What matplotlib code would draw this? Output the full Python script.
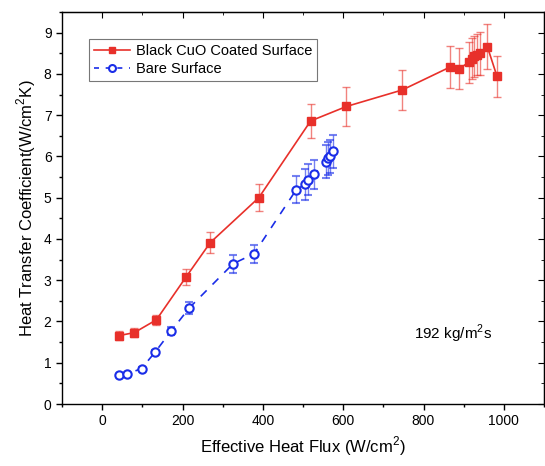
import matplotlib
matplotlib.use("Agg")
import matplotlib.pyplot as plt
from matplotlib.ticker import MultipleLocator
from matplotlib.lines import Line2D

plt.rcParams['font.family'] = ['Liberation Sans', 'DejaVu Sans']
plt.rcParams['mathtext.fontset'] = 'custom'
plt.rcParams['mathtext.rm'] = 'Liberation Sans'

cuo_x = [43, 80, 135, 209, 269, 390, 519, 608, 747, 867, 889, 913, 920, 926, 932, 940, 959, 983]
cuo_y = [1.66, 1.73, 2.04, 3.08, 3.91, 5.0, 6.86, 7.21, 7.61, 8.17, 8.13, 8.28, 8.37, 8.43, 8.47, 8.50, 8.66, 7.94]
cuo_err = [0.1, 0.1, 0.12, 0.2, 0.25, 0.32, 0.42, 0.47, 0.48, 0.5, 0.5, 0.5, 0.5, 0.5, 0.5, 0.52, 0.55, 0.5]

bare_x = [43, 63, 98, 132, 172, 217, 326, 378, 483, 504, 512, 527, 558, 563, 568, 575]
bare_y = [0.70, 0.73, 0.86, 1.26, 1.77, 2.33, 3.40, 3.64, 5.19, 5.32, 5.44, 5.57, 5.87, 5.96, 6.0, 6.12]
bare_err = [0.03, 0.03, 0.04, 0.06, 0.1, 0.15, 0.22, 0.22, 0.33, 0.38, 0.38, 0.35, 0.4, 0.4, 0.4, 0.4]

fig = plt.figure(figsize=(5.45, 4.66), dpi=100)
ax = fig.add_axes([62/545, 62/466, 482/545, 392/466])

red = '#e8302a'
blue = '#1a2de8'
bare_ls = (0, (5, 5))
ax.errorbar(cuo_x, cuo_y, yerr=cuo_err, color=red, lw=1.2, marker='s', ms=5.8,
            ecolor=(0.91, 0.19, 0.16, 0.6), elinewidth=1.0, capsize=3, capthick=1.0)
ax.errorbar(bare_x, bare_y, yerr=bare_err, color=blue, lw=1.2, ls=bare_ls, marker='o', ms=6,
            mfc='white', mec=blue, mew=1.5,
            ecolor=(0.1, 0.18, 0.91, 0.6), elinewidth=1.0, capsize=3, capthick=1.0)

ax.set_xlim(-100, 1100)
ax.set_ylim(0, 9.5)
ax.xaxis.set_major_locator(MultipleLocator(200))
ax.xaxis.set_minor_locator(MultipleLocator(100))
ax.yaxis.set_major_locator(MultipleLocator(1))
ax.yaxis.set_minor_locator(MultipleLocator(0.5))
ax.tick_params(which='major', direction='out', length=4, width=1, labelsize=10)
ax.tick_params(which='minor', direction='out', length=2, width=1)
ax.set_xticks([0, 200, 400, 600, 800, 1000])

axt = ax.secondary_xaxis('top')
axt.tick_params(which='both', direction='in', labeltop=False)
axt.xaxis.set_major_locator(MultipleLocator(200))
axt.xaxis.set_minor_locator(MultipleLocator(100))
axt.tick_params(which='major', length=4)
axt.tick_params(which='minor', length=2)
axr = ax.secondary_yaxis('right')
axr.tick_params(which='both', direction='in', labelright=False)
axr.yaxis.set_major_locator(MultipleLocator(1))
axr.yaxis.set_minor_locator(MultipleLocator(0.5))
axr.tick_params(which='major', length=4)
axr.tick_params(which='minor', length=2)

for s in ax.spines.values():
    s.set_linewidth(1.0)

ax.set_xlabel('Effective Heat Flux (W/cm$^2$)', fontsize=12)
ax.set_ylabel('Heat Transfer Coefficient(W/cm$^2$K)', fontsize=12)
ax.text(874, 1.7, '192 kg/m$^2$s', fontsize=11, ha='center', va='center')

handles = [
    Line2D([], [], color=red, lw=1.2, marker='s', ms=5),
    Line2D([], [], color=blue, lw=1.2, ls=(0, (3, 4)), marker='o', ms=5, mfc='white', mec=blue, mew=1.5),
]
labels = ['Black CuO Coated Surface', 'Bare Surface']
leg = ax.legend(handles, labels, loc='upper left', bbox_to_anchor=(0.04, 0.95), fontsize=10.5,
                frameon=True, fancybox=False, edgecolor='#555555',
                handlelength=2.5, borderpad=0.35, labelspacing=0.25, handletextpad=0.4)
leg.get_frame().set_linewidth(0.8)

fig.savefig('out.png', dpi=100)
